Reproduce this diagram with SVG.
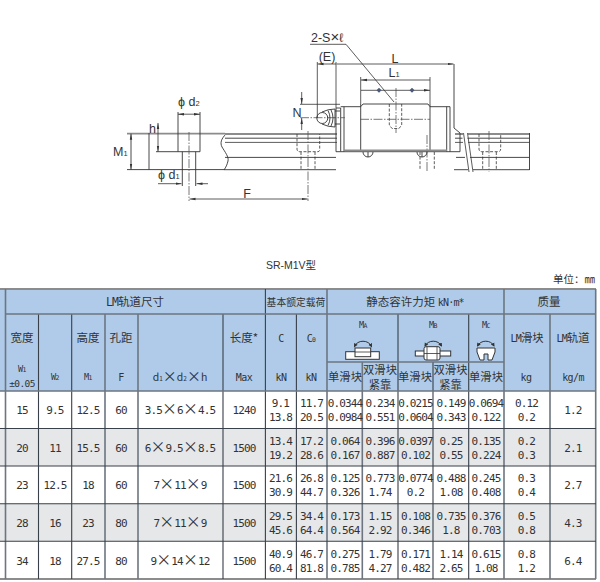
<svg xmlns="http://www.w3.org/2000/svg" width="600" height="582" viewBox="0 0 600 582">
<style>
text{fill:#333;font-family:"DejaVu Sans Mono","Noto Sans CJK SC",sans-serif;text-anchor:middle}
.l{font-family:"Liberation Sans",sans-serif;font-size:12.5px;fill:#333}
.s{font-size:7.5px}
.h{font-family:"Noto Sans CJK SC",sans-serif;font-size:11.5px}
.n{letter-spacing:-.8px}
.d text,.d{font-size:11px;letter-spacing:-.85px}
.x{font-family:"Noto Sans CJK SC",sans-serif;font-size:15px;letter-spacing:0}
.u{font-size:6.5px}
.c{font-size:8.5px;letter-spacing:-.6px}
.m{font-family:"Noto Sans CJK SC",sans-serif;font-size:11.3px;letter-spacing:0}
.g{stroke:#6d7680;stroke-width:1.6;fill:none}
.k{stroke:#39404a;stroke-width:1.1;fill:none}
.a{stroke:#333;stroke-width:.8;fill:none}
.t{stroke:#333;stroke-width:.9;fill:none}
.b{stroke:#8c8c8c;stroke-width:1.8;fill:none}
.h2{stroke:#333;stroke-width:.8;fill:none;stroke-dasharray:3 1.6}
.cl{stroke:#555;stroke-width:.8;fill:none;stroke-dasharray:9 1.5 1.5 1.5}
.ar{stroke:#333;stroke-width:.8;fill:none;marker-start:url(#as);marker-end:url(#ae)}
.ic{stroke:#333;stroke-width:1;fill:#fff}
.ac{stroke:#333;stroke-width:1;fill:none;marker-start:url(#is);marker-end:url(#ie)}
</style>
<defs>
<marker id="ae" markerWidth="7" markerHeight="4" refX="6" refY="2" orient="auto" markerUnits="userSpaceOnUse"><path d="M0 .8L6 2L0 3.2z" fill="#333"/></marker>
<marker id="as" markerWidth="7" markerHeight="4" refX="0" refY="2" orient="auto" markerUnits="userSpaceOnUse"><path d="M6 .8L0 2L6 3.2z" fill="#333"/></marker>
<marker id="ie" markerWidth="5" markerHeight="5" refX="3" refY="2.5" orient="auto" markerUnits="userSpaceOnUse"><path d="M0 .5L4 2.5L0 4.5z" fill="#333"/></marker>
<marker id="is" markerWidth="5" markerHeight="5" refX="1" refY="2.5" orient="auto" markerUnits="userSpaceOnUse"><path d="M4 .5L0 2.5L4 4.5z" fill="#333"/></marker>
</defs>
<rect width="600" height="582" fill="#fff"/>

<g id="rail-section">
<path class="b" d="M127 133.7H225"/>
<path class="t" d="M127 169.6H224M149 133V169.6"/>
<path class="t" d="M178 112V151.7H200V112M182.3 151.7V186M195.7 151.7V186M156 151.7H178"/>
<path class="cl" d="M189 132V201"/>
</g>
<g id="rail-side">
<path class="t" d="M226 134C221 139 220 143 222 147C225 152 229 157 228 161C227 165 226 167 224 170"/>
<path class="b" d="M225 134H337M455 134H463M468 134H530"/>
<path class="t" d="M225 138.2H337M455 138.2H462.5M467.5 138.2H529.5M225 157.4H336M456 157.4H465M470 157.4H529.5M224 169.7H336M454 169.7H468M473 169.7H529.5M529.5 133V170"/>
<path class="a" d="M225 142.4H337M455 142.4H463M468 142.4H529.5"/>
<path class="a" d="M463.5 133L469 172M467.5 133L473 172"/>
<path class="h2" d="M297 134V149Q297 151.7 300 151.7H318Q319.7 151.7 319.7 149V134M301 152V170M315 152V170"/>
<path class="h2" d="M479 134V149Q479 151.7 482 151.7H498Q500.7 151.7 500.7 149V134M482.7 152V170M496.3 152V170"/>
<path class="h2" d="M420 152V170M434.3 152V170"/>
<path class="cl" d="M308 131V201M489 131V172M427 135V172"/>
</g>
<g id="block">
<path class="t" d="M336 108H340.7V151.7H336ZM340.7 106.7H360.7L363 104H428L430 106.7H450V151.7H340.7M344 106.7V151.7M360.7 104V150M430 104V150M446.7 106.7V151.7"/>
<path class="t" d="M454 64V128L460 133V151.7H450"/>
<path class="b" d="M344 150.3H447"/>
<path class="t" d="M363 152A5 5 0 0 0 373 152M417 152A5 5 0 0 0 427 152M368 152V157M422 152V157"/>
<path class="h2" d="M389.3 104V125L392 128.5H399L401.7 125V104"/>
<path class="cl" d="M396 88V133M360 119.3H430M300 117.7H345"/>
</g>
<g id="nipple">
<circle class="t" cx="322.3" cy="118" r="5.5"/>
<path class="t" d="M322 112Q328 109 335 109V127Q328 127 322 124M328 110.5Q332 118 328 125.5M331 110Q335 118 331 126M335 111H340M335 124H340"/>
</g>
<g id="dimensions">
<path class="t" d="M131 133.7V169.6" marker-start="url(#as)" marker-end="url(#ae)"/>
<path class="ar" d="M178 114.2H200"/>
<path class="ar" d="M158 123V151.7"/>
<path class="a" d="M158 183.7H181.5" marker-end="url(#ae)"/>
<path class="a" d="M196.5 183.7H208" marker-start="url(#as)"/>
<path class="ar" d="M189.5 199H307.5"/>
<path class="a" d="M300 104.3H340M317.3 62V118M336 62V108"/>
<path class="a" d="M301.7 92V104" marker-end="url(#ae)"/>
<path class="a" d="M301.7 118V130" marker-start="url(#as)"/>
<path class="ar" d="M317.5 64H336M336.5 64H453.5"/>
<path class="ar" d="M361 80H430M361 90.3H430"/>
<path class="a" d="M360.7 77V104M430 77V104"/>
<path d="M379 87.8L381.5 90.3L379 92.8L376.5 90.3ZM412 87.8L414.5 90.3L412 92.8L409.5 90.3Z" fill="#4a5a78"/>
<path class="a" d="M310 44.3H346L394 102"/>
</g>
<g id="drawing-labels">
<text class="l" style="text-anchor:start" x="178" y="106">ϕ d<tspan class="s">2</tspan></text>
<text class="l" style="text-anchor:start" x="158" y="179">ϕ d<tspan class="s">1</tspan></text>
<text class="l" style="text-anchor:start" x="113" y="156">M<tspan class="s">1</tspan></text>
<text class="l" style="text-anchor:start" x="149" y="133">h</text>
<text class="l" x="297" y="117">N</text>
<text class="l" x="247" y="198">F</text>
<text class="l" x="395" y="63">L</text>
<text class="l" x="394" y="77">L<tspan class="s">1</tspan></text>
<text class="l" x="327" y="60.5">(E)</text>
<text class="l" style="text-anchor:start" x="311" y="41.5">2-S<tspan font-size="15">×</tspan>ℓ</text>
</g>
<g id="titles">
<text class="h" style="font-family:'Liberation Sans','Noto Sans CJK SC',sans-serif;font-size:10.5px" x="291" y="269">SR-M1V型</text>
<text class="h" style="text-anchor:end;font-size:10.5px" x="595" y="283">单位：㎜</text>
</g>

<g id="table-fills">
<rect x="0" y="289" width="596" height="102" fill="#afcbe9"/>
<rect x="0" y="428.5" width="596" height="37.5" fill="#e6e7e9"/>
<rect x="0" y="503.7" width="596" height="37.5" fill="#e6e7e9"/>
</g>
<g id="table-grid">
<path class="b" d="M0 289H596M0 579H596"/>
<path class="g" d="M5.5 289V579M105 314V579M138 314V579M327 289V579M362.3 362V579M504 289V579M550 314V579M595.7 289V579"/>
<path class="k" d="M38.5 314V579M71.7 314V579M223 314V579M265.4 289V579M296.4 314V579M398 314V579M433 362V579M468.7 314V579"/>
<path class="g" d="M5 314H596M327 362H504M0 391H596"/>
<path class="k" d="M0 428.5H596M0 466H596M0 503.7H596M0 541.2H596"/>
</g>
<g id="table-header">
<text class="h" x="135" y="306"><tspan class="n" style="font-family:'DejaVu Sans Mono'">LM</tspan>轨道尺寸</text>
<text class="h" style="font-size:9.8px" x="296" y="306">基本额定载荷</text>
<text class="h" x="415" y="306">静态容许力矩 <tspan class="n" style="font-family:'DejaVu Sans Mono';font-size:10px">kN·m*</tspan></text>
<text class="h" x="549" y="306">质量</text>
<text class="h" x="22" y="342">宽度</text>
<text class="h" x="88" y="342">高度</text>
<text class="h" x="121" y="342">孔距</text>
<text class="h" x="244" y="342">长度*</text>
<text class="c" style="font-size:10px" x="281" y="342">C</text>
<text class="c" style="font-size:10px" x="311" y="342">C<tspan class="u">0</tspan></text>
<text class="m" x="527" y="342"><tspan class="n" style="font-family:'DejaVu Sans Mono';font-size:10px">LM</tspan>滑块</text>
<text class="m" x="573" y="342"><tspan class="n" style="font-family:'DejaVu Sans Mono';font-size:10px">LM</tspan>轨道</text>
<text class="c" x="22" y="372">W<tspan class="u">1</tspan></text>
<text class="c" style="font-size:9.5px" x="22" y="387">±0.05</text>
<text class="c" x="55" y="380">W<tspan class="u">2</tspan></text>
<text class="c" x="88" y="380">M<tspan class="u">1</tspan></text>
<text class="c" style="font-size:10px" x="121" y="381">F</text>
<text class="h" style="font-size:10.5px" x="180" y="381">d<tspan class="u">1</tspan><tspan font-size="14">×</tspan>d<tspan class="u">2</tspan><tspan font-size="14">×</tspan>h</text>
<text class="c" style="font-size:10px" x="244" y="381">Max</text>
<text class="c" style="font-size:10px" x="281" y="381">kN</text>
<text class="c" style="font-size:10px" x="311" y="381">kN</text>
<text class="m" x="345" y="381">单滑块</text>
<text class="m" x="380" y="374">双滑块</text>
<text class="m" x="380" y="389">紧靠</text>
<text class="m" x="415" y="381">单滑块</text>
<text class="m" x="450.5" y="374">双滑块</text>
<text class="m" x="450.5" y="389">紧靠</text>
<text class="m" x="486" y="381">单滑块</text>
<text class="c" style="font-size:10px" x="526" y="381">kg</text>
<text class="c" style="font-size:10px" x="573" y="381">kg/m</text>
<text class="c" x="363" y="328">M<tspan class="u">A</tspan></text>
<text class="c" x="433" y="328">M<tspan class="u">B</tspan></text>
<text class="c" x="486" y="328">M<tspan class="u">C</tspan></text>
</g>
<g id="icon-ma">
<path class="ac" d="M354.5 346.5A9.5 9.5 0 0 1 371.5 346.5"/>
<rect class="ic" x="345.7" y="351.7" width="33.6" height="7.6"/>
<rect class="ic" x="355" y="348" width="15.7" height="8.7"/>
<path class="a" d="M355 352H370.7"/>
</g>
<g id="icon-mb">
<path class="ac" d="M425 346A9.5 9.5 0 0 1 441.5 346"/>
<rect class="ic" x="415.3" y="351" width="35.4" height="5"/>
<rect class="ic" x="424" y="346.7" width="16" height="13.3" rx="2"/>
<path class="a" d="M427 347V360M437 347V360M424 353.5H440"/>
</g>
<g id="icon-mc">
<path class="ac" d="M477.5 346A9.5 9.5 0 0 1 494 346"/>
<path class="ic" d="M477 348H495V352L492 360H488V354H484V360H480L477 352Z"/>
</g>
<g id="row-1" class="d">
<text x="22" y="414">15</text><text x="55" y="414">9.5</text><text x="88" y="414">12.5</text><text x="121" y="414">60</text><text x="180" y="414">3.5<tspan class="x">×</tspan>6<tspan class="x">×</tspan>4.5</text><text x="244" y="414">1240</text>
<text x="280.5" y="406.5">9.1</text><text x="280.5" y="421">13.8</text><text x="311.5" y="406.5">11.7</text><text x="311.5" y="421">20.5</text>
<text x="345" y="406.5">0.0344</text><text x="345" y="421">0.0984</text><text x="380" y="406.5">0.234</text><text x="380" y="421">0.551</text>
<text x="415.5" y="406.5">0.0215</text><text x="415.5" y="421">0.0604</text><text x="451" y="406.5">0.149</text><text x="451" y="421">0.343</text>
<text x="486" y="406.5">0.0694</text><text x="486" y="421">0.122</text><text x="526.5" y="406.5">0.12</text><text x="526.5" y="421">0.2</text><text x="573" y="414">1.2</text>
</g>
<g id="row-2" class="d">
<text x="22" y="452">20</text><text x="55" y="452">11</text><text x="88" y="452">15.5</text><text x="121" y="452">60</text><text x="180" y="452">6<tspan class="x">×</tspan>9.5<tspan class="x">×</tspan>8.5</text><text x="244" y="452">1500</text>
<text x="280.5" y="445">13.4</text><text x="280.5" y="459">19.2</text><text x="311.5" y="445">17.2</text><text x="311.5" y="459">28.6</text>
<text x="345" y="445">0.064</text><text x="345" y="459">0.167</text><text x="380" y="445">0.396</text><text x="380" y="459">0.887</text>
<text x="415.5" y="445">0.0397</text><text x="415.5" y="459">0.102</text><text x="451" y="445">0.25</text><text x="451" y="459">0.55</text>
<text x="486" y="445">0.135</text><text x="486" y="459">0.224</text><text x="526.5" y="445">0.2</text><text x="526.5" y="459">0.3</text><text x="573" y="452">2.1</text>
</g>
<g id="row-3" class="d">
<text x="22" y="489">23</text><text x="55" y="489">12.5</text><text x="88" y="489">18</text><text x="121" y="489">60</text><text x="180" y="489">7<tspan class="x">×</tspan>11<tspan class="x">×</tspan>9</text><text x="244" y="489">1500</text>
<text x="280.5" y="482">21.6</text><text x="280.5" y="496">30.9</text><text x="311.5" y="482">26.8</text><text x="311.5" y="496">44.7</text>
<text x="345" y="482">0.125</text><text x="345" y="496">0.326</text><text x="380" y="482">0.773</text><text x="380" y="496">1.74</text>
<text x="415.5" y="482">0.0774</text><text x="415.5" y="496">0.2</text><text x="451" y="482">0.488</text><text x="451" y="496">1.08</text>
<text x="486" y="482">0.245</text><text x="486" y="496">0.408</text><text x="526.5" y="482">0.3</text><text x="526.5" y="496">0.4</text><text x="573" y="489">2.7</text>
</g>
<g id="row-4" class="d">
<text x="22" y="527">28</text><text x="55" y="527">16</text><text x="88" y="527">23</text><text x="121" y="527">80</text><text x="180" y="527">7<tspan class="x">×</tspan>11<tspan class="x">×</tspan>9</text><text x="244" y="527">1500</text>
<text x="280.5" y="520">29.5</text><text x="280.5" y="534">45.6</text><text x="311.5" y="520">34.4</text><text x="311.5" y="534">64.4</text>
<text x="345" y="520">0.173</text><text x="345" y="534">0.564</text><text x="380" y="520">1.15</text><text x="380" y="534">2.92</text>
<text x="415.5" y="520">0.108</text><text x="415.5" y="534">0.346</text><text x="451" y="520">0.735</text><text x="451" y="534">1.8</text>
<text x="486" y="520">0.376</text><text x="486" y="534">0.703</text><text x="526.5" y="520">0.5</text><text x="526.5" y="534">0.8</text><text x="573" y="527">4.3</text>
</g>
<g id="row-5" class="d">
<text x="22" y="565">34</text><text x="55" y="565">18</text><text x="88" y="565">27.5</text><text x="121" y="565">80</text><text x="180" y="565">9<tspan class="x">×</tspan>14<tspan class="x">×</tspan>12</text><text x="244" y="565">1500</text>
<text x="280.5" y="557.5">40.9</text><text x="280.5" y="572">60.4</text><text x="311.5" y="557.5">46.7</text><text x="311.5" y="572">81.8</text>
<text x="345" y="557.5">0.275</text><text x="345" y="572">0.785</text><text x="380" y="557.5">1.79</text><text x="380" y="572">4.27</text>
<text x="415.5" y="557.5">0.171</text><text x="415.5" y="572">0.482</text><text x="451" y="557.5">1.14</text><text x="451" y="572">2.65</text>
<text x="486" y="557.5">0.615</text><text x="486" y="572">1.08</text><text x="526.5" y="557.5">0.8</text><text x="526.5" y="572">1.2</text><text x="573" y="565">6.4</text>
</g>
</svg>
